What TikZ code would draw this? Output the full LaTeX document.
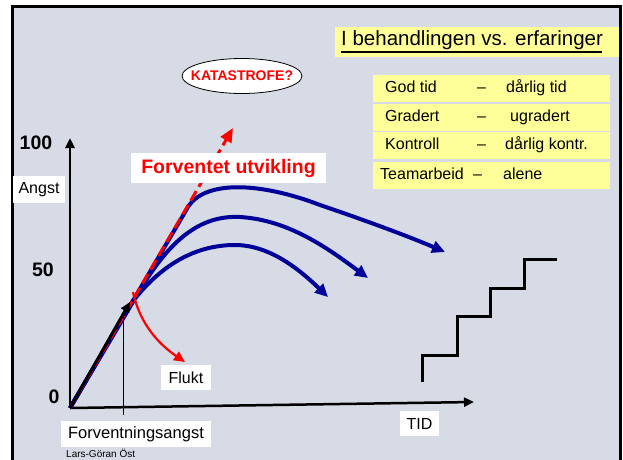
\documentclass[tikz,border=0pt]{standalone}
\usepackage{fontspec}
\setmainfont{Liberation Sans}
\usetikzlibrary{arrows.meta,shapes.geometric}
\definecolor{slidebg}{RGB}{214,219,230}
\definecolor{noteyellow}{RGB}{255,255,153}
\definecolor{curveblue}{RGB}{0,0,153}
\definecolor{alarmred}{RGB}{255,0,0}

\begin{document}
\begin{tikzpicture}[x=1pt, y=-1pt,
  whitelabel/.style={fill=white, inner sep=0pt, font=\fontsize{16}{18}\selectfont},
  rowbox/.style={fill=noteyellow, minimum width=237pt, minimum height=27pt, inner sep=0pt},
  rowtext/.style={anchor=west, inner sep=0pt, text height=11.5pt, text depth=3.5pt, font=\fontsize{16}{18}\selectfont},
  axisnum/.style={inner sep=0pt, font=\bfseries\fontsize{19.5}{21}\selectfont},
  trend/.style={curveblue, line width=4pt, -{Triangle[length=13pt,width=12pt]}},
  axisline/.style={line width=2.5pt, -{Triangle[length=10pt,width=9pt]}}]

\useasboundingbox (0,0) rectangle (623,459);
\clip (0,0) rectangle (623,459);

% Background
\fill[white] (0,0) rectangle (623,459);
\draw[line width=3pt, fill=slidebg] (12,6.5) rectangle (620,480);

% Title
\fill[noteyellow] (335,27) rectangle (618.5,57);
\node[anchor=west, inner sep=0pt, text height=15pt, text depth=4.5pt, font=\fontsize{20.5}{22}\selectfont] (title) at (341,40.5) {I behandlingen vs. erfaringer};
\draw[line width=2pt, black] (341,52) -- (602,52);

% Table rows
\node[rowbox] (row1) at (491.5,88.5) {};
\node[rowbox] (row2) at (491.5,117.5) {};
\node[rowbox] (row3) at (491.5,145.5) {};
\node[rowbox] (row4) at (491.5,175) {};
\foreach \r/\a/\xb/\b in {row1/God tid/506/dårlig tid, row2/Gradert/510/ugradert, row3/Kontroll/505/dårlig kontr.} {
    \node[rowtext] at (385,0|-\r) {\a};
    \node[rowtext] at (477,0|-\r) {--};
    \node[rowtext] at (\xb,0|-\r) {\b};
}
\node[rowtext] at (380,0|-row4) {Teamarbeid};
\node[rowtext] at (473,0|-row4) {--};
\node[rowtext] at (503,0|-row4) {alene};

% Axes
\coordinate (O) at (70,408);
\coordinate (ytip) at (70,138);
\coordinate (xtip) at (474,402);
\draw[axisline] (O) -- (ytip);
\draw[axisline] (O) -- (xtip);

% Blue curves
\draw[trend] (O) -- (188,207) .. controls (205,180) and (260,182) .. (320,205) .. controls (370,222) and (410,237) .. (445,252);
\draw[trend] (O) -- (140,290) .. controls (170,240) and (200,215) .. (240,217) .. controls (290,220) and (330,250) .. (368,278);
\draw[trend] (O) -- (130,305) .. controls (160,265) and (195,245) .. (235,245) .. controls (270,245) and (300,270) .. (328,297);

% Red lines
\coordinate (katatip) at (233,128);
\coordinate (fluktstart) at (133,292);
\draw[alarmred, line width=3pt, dash pattern=on 11pt off 5pt, -{Triangle[length=14pt,width=12pt]}] (O) -- (katatip);
\draw[alarmred, line width=2.2pt, -{Triangle[length=11pt,width=10pt]}] (fluktstart) .. controls (140,325) and (160,345) .. (185,362);

% Forventningsangst
\coordinate (forvtop) at (123,312);
\coordinate (forvbot) at (123,415);
\draw[line width=1pt] (forvtop) -- (forvbot);
\draw[line width=3pt, -{Triangle[length=10pt,width=9pt]}] (O) -- (130,302);

% Labels
\node[axisnum] (n100) at (36,143) {100};
\node[axisnum] (n50) at (43,270) {50};
\node[axisnum] (n0) at (54,397) {0};
\node[whitelabel, minimum width=52pt, minimum height=27pt] (angstlbl) at (39,189.5) {Angst};
\node[whitelabel, minimum width=195pt, minimum height=30pt, text=alarmred, font=\bfseries\fontsize{19.5}{21}\selectfont] (forventlbl) at (228.5,168) {Forventet utvikling};
\node[whitelabel, minimum width=50pt, minimum height=25pt] (fluktlbl) at (186,377.5) {Flukt};
\node[whitelabel, minimum width=39pt, minimum height=25pt] (tidlbl) at (419.5,423.5) {TID};
\node[whitelabel, minimum width=150pt, minimum height=26pt, font=\fontsize{16.5}{18}\selectfont] (forvlbl) at (136,434) {Forventningsangst};
\node[anchor=west, inner sep=0pt, font=\fontsize{10}{11}\selectfont] (author) at (66,453) {Lars-Göran Öst};

% Katastrofe
\node[ellipse, draw, thick, fill=white, minimum width=120pt, minimum height=35pt, inner sep=0pt] (katastrofe) at (242,76) {};
\node[inner sep=0pt, text=alarmred, font=\bfseries\fontsize{14}{16}\selectfont] (katatext) at (katastrofe.center) {KATASTROFE?};

% Stairs
\draw[line width=3pt] (422,382) -- (422,355) -- (457,355) -- (457,316) -- (490,316) -- (490,288) -- (524,288) -- (524,259) -- (557,259);

\end{tikzpicture}
\end{document}
